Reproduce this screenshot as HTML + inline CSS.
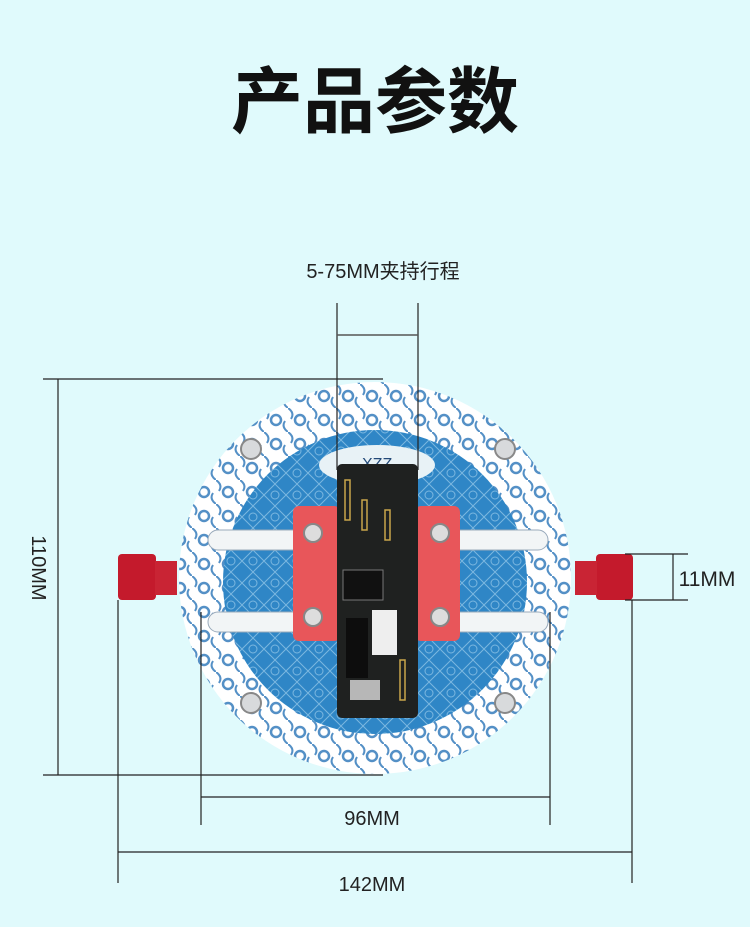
<!DOCTYPE html>
<html><head><meta charset="utf-8"><style>
html,body{margin:0;padding:0;background:#e0fafc;}
svg{display:block}
text{font-family:"Liberation Sans","Noto Sans CJK SC",sans-serif;fill:#222}
</style></head><body>
<svg width="750" height="927" viewBox="0 0 750 927" xmlns="http://www.w3.org/2000/svg">
<defs>
<pattern id="pt" width="22" height="22" patternUnits="userSpaceOnUse">
<rect width="22" height="22" fill="#2f86c6"/>
<path d="M0 11 L11 0 L22 11 L11 22Z" fill="none" stroke="#7bb7e0" stroke-width="1"/>
<circle cx="11" cy="11" r="4" fill="none" stroke="#7bb7e0" stroke-width="1"/>
</pattern>
<pattern id="orn" width="24" height="24" patternUnits="userSpaceOnUse">
<rect width="24" height="24" fill="#fff"/>
<circle cx="12" cy="12" r="5" fill="none" stroke="#2a75b8" stroke-width="2.5"/>
<path d="M0 0 Q7 5 3 11 M24 24 Q17 19 21 13" fill="none" stroke="#2a75b8" stroke-width="2"/>
</pattern>
</defs>
<text x="375" y="127" font-size="72" font-weight="bold" text-anchor="middle" style="fill:#111">产品参数</text>
<text x="383" y="278" font-size="20" text-anchor="middle">5-75MM夹持行程</text>
<circle cx="375" cy="578" r="196" fill="url(#orn)"/>
<circle cx="375" cy="578" r="196" fill="#fff" opacity="0.2"/>
<circle cx="375" cy="582" r="152" fill="url(#pt)"/>
<ellipse cx="377" cy="465" rx="58" ry="20" fill="#e8f2f6"/>
<text x="362" y="469" font-size="16" font-family="Liberation Serif" style="fill:#244a78">XZZ</text>
<g fill="#d8dadc" stroke="#888" stroke-width="2">
<circle cx="251" cy="449" r="10"/><circle cx="505" cy="449" r="10"/>
<circle cx="251" cy="703" r="10"/><circle cx="505" cy="703" r="10"/>
</g>
<g fill="#f2f5f6" stroke="#9ab" stroke-width="1">
<rect x="208" y="530" width="340" height="20" rx="10"/>
<rect x="208" y="612" width="340" height="20" rx="10"/>
</g>
<rect x="293" y="506" width="47" height="135" rx="6" fill="#e8565a"/>
<rect x="415" y="506" width="45" height="135" rx="6" fill="#e8565a"/>
<g fill="#ddd" stroke="#888" stroke-width="2">
<circle cx="313" cy="533" r="9"/><circle cx="440" cy="533" r="9"/>
<circle cx="313" cy="617" r="9"/><circle cx="440" cy="617" r="9"/>
</g>
<rect x="337" y="464" width="81" height="254" rx="5" fill="#1f2120"/>
<rect x="343" y="570" width="40" height="30" fill="#111" stroke="#777"/>
<rect x="372" y="610" width="25" height="45" fill="#eee"/>
<rect x="346" y="618" width="22" height="60" fill="#0d0d0d"/>
<rect x="350" y="680" width="30" height="20" fill="#ddd" opacity=".8"/>
<g stroke="#c9a64a" stroke-width="1.5" fill="none">
<rect x="345" y="480" width="5" height="40"/><rect x="362" y="500" width="5" height="30"/>
<rect x="385" y="510" width="5" height="30"/><rect x="400" y="660" width="5" height="40"/>
</g>
<rect x="118" y="554" width="38" height="46" rx="4" fill="#c41a2c"/>
<rect x="155" y="561" width="22" height="34" fill="#c92434"/>
<rect x="596" y="554" width="37" height="46" rx="4" fill="#c41a2c"/>
<rect x="575" y="561" width="22" height="34" fill="#c92434"/>
<g stroke="#222" stroke-width="1.2" fill="none">
<line x1="337" y1="303" x2="337" y2="470"/><line x1="418" y1="303" x2="418" y2="470"/>
<line x1="337" y1="335" x2="418" y2="335" stroke="#555" stroke-width="1.5"/>
<line x1="43" y1="379" x2="383" y2="379"/><line x1="43" y1="775" x2="383" y2="775"/>
<line x1="58" y1="379" x2="58" y2="775"/>
<line x1="625" y1="554" x2="688" y2="554"/><line x1="625" y1="600" x2="688" y2="600"/>
<line x1="673" y1="554" x2="673" y2="600"/>
<line x1="201" y1="612" x2="201" y2="825"/><line x1="550" y1="612" x2="550" y2="825"/>
<line x1="201" y1="797" x2="550" y2="797"/>
<line x1="118" y1="600" x2="118" y2="883"/><line x1="632" y1="600" x2="632" y2="883"/>
<line x1="118" y1="852" x2="632" y2="852"/>
</g>
<text x="707" y="586" font-size="21" text-anchor="middle">11MM</text>
<text x="372" y="825" font-size="20" text-anchor="middle">96MM</text>
<text x="372" y="891" font-size="20" text-anchor="middle">142MM</text>
<text x="0" y="0" font-size="20" text-anchor="middle" transform="translate(32,568) rotate(90)">110MM</text>
</svg>
</body></html>
